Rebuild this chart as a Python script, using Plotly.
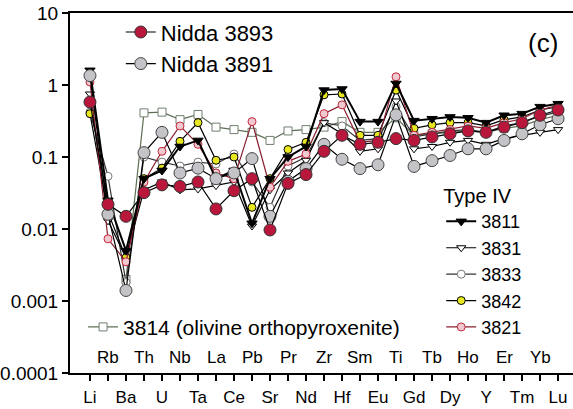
import plotly.graph_objects as go

elements = ["Li","Rb","Ba","Th","U","Nb","Ta","La","Ce","Pb","Sr","Pr","Nd","Zr",
            "Hf","Sm","Eu","Ti","Gd","Tb","Dy","Ho","Y","Er","Tm","Yb","Lu"]

nidda_3893 = [0.58, 0.022, 0.015, 0.032, 0.041, 0.039, 0.045, 0.019, 0.034, 0.05, 0.0097, 0.043, 0.057,
              0.12, 0.2, 0.15, 0.16, 0.18, 0.17, 0.19, 0.21, 0.23, 0.22, 0.26, 0.3, 0.38, 0.45]
nidda_3891 = [1.35, 0.016, 0.0014, 0.115, 0.22, 0.06, 0.07, 0.05, 0.06, 0.095, 0.015, 0.046, 0.069,
              0.15, 0.093, 0.069, 0.078, 0.385, 0.074, 0.089, 0.105, 0.13, 0.13, 0.17, 0.21, 0.28, 0.34]
s3811 = [1.6, 0.025, 0.005, 0.05, 0.065, 0.14, 0.17, 0.05, 0.065, 0.012, 0.05, 0.1, 0.14,
         0.85, 0.88, 0.31, 0.31, 1.05, 0.32, 0.34, 0.36, 0.35, 0.3, 0.38, 0.4, 0.5, 0.55]
s3831 = [0.75, 0.013, 0.004, 0.035, 0.045, 0.035, 0.036, 0.04, 0.045, 0.011, 0.035, 0.06, 0.09,
         0.3, 0.21, 0.12, 0.13, 0.6, 0.13, 0.14, 0.16, 0.17, 0.15, 0.18, 0.2, 0.22, 0.24]
s3833 = [0.42, 0.054, 0.0018, 0.1, 0.085, 0.075, 0.085, 0.08, 0.11, 0.045, 0.02, 0.075, 0.1,
         0.3, 0.27, 0.17, 0.18, 0.5, 0.19, 0.21, 0.23, 0.24, 0.22, 0.27, 0.3, 0.37, 0.42]
s3842 = [0.4, 0.017, 0.004, 0.05, 0.07, 0.165, 0.3, 0.09, 0.1, 0.02, 0.05, 0.127, 0.16,
         0.73, 0.75, 0.2, 0.2, 0.85, 0.25, 0.28, 0.3, 0.3, 0.27, 0.33, 0.36, 0.45, 0.5]
s3821 = [1.1, 0.0073, 0.0035, 0.045, 0.12, 0.27, 0.15, 0.06, 0.05, 0.31, 0.038, 0.087, 0.11,
         0.4, 0.53, 0.16, 0.17, 1.3, 0.2, 0.22, 0.24, 0.27, 0.25, 0.3, 0.34, 0.45, 0.52]
s3814 = [None, None, 0.002, 0.41, 0.42, 0.33, 0.39, 0.26, 0.24, 0.22, 0.17, 0.23, 0.24,
         0.26, 0.31, 0.22, 0.22, 0.35, 0.2, 0.21, 0.22, 0.23, 0.22, 0.25, 0.27, 0.33, 0.38]

xs = list(range(len(elements)))
FONT = "Liberation Sans, Arial, sans-serif"

fig = go.Figure()

def add(name, y, legend, rank, symbol, size, fill, edge, lcol="black", lw=1.2, ew=1):
    fig.add_trace(go.Scatter(
        x=xs, y=y, name=name, mode="lines+markers", legend=legend, legendrank=rank,
        line=dict(color=lcol, width=lw),
        marker=dict(symbol=symbol, size=size, color=fill, line=dict(color=edge, width=ew)),
        connectgaps=False))

add("3814 (olivine orthopyroxenite)", s3814, "legend3", 1, "square", 8, "white", "#6f7f6f", lcol="#5f6f55", lw=1.2)
add("3833", s3833, "legend2", 3, "circle", 8, "white", "#777777", lcol="#333333")
add("3831", s3831, "legend2", 2, "triangle-down", 8, "white", "black")
add("3842", s3842, "legend2", 4, "circle", 8, "#e8e820", "black")
add("3821", s3821, "legend2", 5, "circle", 8, "#f0c8d0", "#c0283c", lcol="#8a2030")
add("3811", s3811, "legend2", 1, "triangle-down", 9, "black", "black", lw=2)
add("Nidda 3891", nidda_3891, "legend", 2, "circle", 12, "#c4c4c8", "#444444")
add("Nidda 3893", nidda_3893, "legend", 1, "circle", 12, "#b8163a", "#333333")

# upper-row element labels
annotations = []
for i, el in enumerate(elements):
    if i % 2 == 1:
        annotations.append(dict(x=i, y=0.044, xref="x", yref="paper", text=el, showarrow=False,
                                xanchor="center", yanchor="middle",
                                font=dict(family=FONT, size=17, color="black")))
annotations.append(dict(x=0.94, y=0.917, xref="paper", yref="paper", text="(c)", showarrow=False,
                        xanchor="center", yanchor="middle",
                        font=dict(family=FONT, size=26, color="black")))

fig.update_layout(
    width=573, height=409,
    margin=dict(l=70, r=0, t=13, b=36),
    paper_bgcolor="white", plot_bgcolor="white",
    font=dict(family=FONT, color="black"),
    annotations=annotations,
    legend=dict(x=0.101, y=1.005, xanchor="left", yanchor="top", bgcolor="rgba(0,0,0,0)",
                font=dict(family=FONT, size=22), itemsizing="trace"),
    legend2=dict(x=0.738, y=0.544, xanchor="left", yanchor="top", bgcolor="rgba(0,0,0,0)",
                 font=dict(family=FONT, size=18),
                 title=dict(text="Type IV", font=dict(family=FONT, size=20))),
    legend3=dict(x=0.026, y=0.184, xanchor="left", yanchor="top", bgcolor="rgba(0,0,0,0)",
                 font=dict(family=FONT, size=21)),
    showlegend=True,
)

fig.update_xaxes(range=[-1.11, 26.83], tickmode="array", tickvals=xs,
                 ticktext=[el if i % 2 == 0 else "" for i, el in enumerate(elements)],
                 ticks="outside", ticklen=6, tickwidth=1.5, tickcolor="black",
                 ticklabelstandoff=2, automargin=False,
                 showline=True, linecolor="black", linewidth=2, mirror=True,
                 showgrid=False, zeroline=False, tickfont=dict(family=FONT, size=17))
fig.update_yaxes(type="log", range=[-4, 1], tickmode="array",
                 tickvals=[0.0001, 0.001, 0.01, 0.1, 1, 10],
                 ticktext=["0.0001", "0.001", "0.01", "0.1", "1", "10"],
                 ticks="outside", ticklen=6, tickwidth=1.5, tickcolor="black", automargin=False,
                 showline=True, linecolor="black", linewidth=2,
                 showgrid=False, zeroline=False, tickfont=dict(family=FONT, size=19))

# remove the browser's default 8px page margin so the figure fills the window exactly
fig.write_html("out.html", config={"displayModeBar": False},
               post_script="document.body.style.margin='0';")
